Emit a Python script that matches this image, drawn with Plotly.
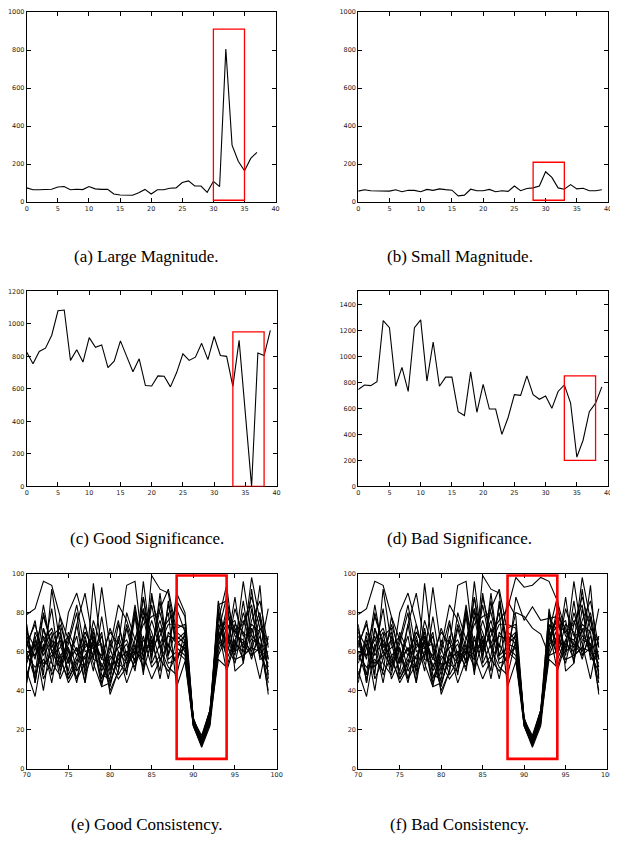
import plotly.graph_objects as go

# ---------------- data ----------------
# (a) Large Magnitude
a_x = list(range(38))
a_y = [75, 65, 65, 65, 68, 80, 82, 65, 68, 66, 82, 70, 67, 68, 43, 38, 38, 36, 50, 67,
       43, 65, 65, 73, 75, 103, 112, 85, 85, 52, 110, 82, 805, 300, 215, 165, 230, 262]
a_box = [30, 35, 10, 910]

# (b) Small Magnitude
b_x = list(range(40))
b_y = [58, 65, 60, 60, 58, 58, 65, 55, 63, 62, 55, 67, 62, 70, 66, 63, 33, 37, 68, 60,
       60, 67, 55, 60, 57, 85, 60, 72, 75, 85, 160, 130, 75, 68, 92, 70, 73, 60, 60, 65]
b_box = [28, 33, 10, 210]

# (c) Good Significance
c_x = list(range(40))
c_y = [825, 755, 830, 850, 930, 1080, 1085, 775, 840, 765, 915, 855, 870, 730, 770, 895,
       800, 705, 785, 620, 618, 680, 678, 612, 700, 815, 775, 795, 880, 780, 922, 805,
       800, 615, 898, 440, 0, 820, 805, 960]
c_box = [33, 38, 0, 950]

# (d) Bad Significance
d_x = list(range(40))
d_y = [745, 780, 775, 805, 1275, 1220, 770, 915, 730, 1220, 1280, 810, 1110, 770, 840,
       840, 575, 545, 880, 570, 785, 595, 595, 400, 530, 705, 700, 850, 705, 670, 695,
       600, 730, 780, 640, 225, 355, 575, 640, 765]
d_box = [33, 38, 200, 850]

# (e)/(f) Consistency: x = 70..99
cons_x = list(range(70, 100))
e01 = [79, 82, 96, 94, 78, 66, 58, 70, 62, 58, 70, 64, 94, 96, 60, 88, 70, 76, 82, 70, 24, 14, 26, 84, 86, 70, 74, 88, 72, 64]
e02 = [74, 44, 72, 60, 52, 80, 90, 74, 56, 93, 62, 84, 76, 62, 52, 99, 92, 90, 66, 60, 23, 12, 24, 76, 94, 60, 64, 98, 76, 56]
e03 = [62, 76, 48, 92, 64, 50, 74, 90, 64, 42, 44, 56, 60, 56, 78, 56, 90, 58, 90, 80, 25, 13, 28, 86, 62, 88, 58, 62, 94, 46]
e04 = [50, 37, 62, 70, 46, 56, 62, 44, 95, 60, 40, 50, 72, 54, 96, 62, 68, 80, 42, 55, 22, 11, 22, 60, 72, 76, 54, 92, 60, 82]
e05 = [68, 56, 84, 60, 52, 64, 80, 48, 60, 70, 38, 50, 80, 66, 82, 60, 82, 92, 70, 66, 24, 15, 30, 80, 56, 66, 76, 64, 46, 68]
e06 = [56, 64, 40, 68, 72, 48, 58, 62, 68, 56, 54, 46, 52, 78, 48, 90, 64, 74, 74, 72, 26, 14, 26, 70, 88, 50, 54, 82, 58, 50]
e07 = [72, 44, 72, 54, 48, 70, 60, 70, 62, 64, 44, 58, 64, 50, 80, 70, 56, 50, 58, 62, 23, 16, 30, 64, 66, 62, 96, 68, 64, 44]
e08 = [64, 74, 58, 66, 56, 46, 54, 74, 56, 54, 42, 60, 54, 62, 74, 78, 80, 62, 86, 78, 25, 15, 27, 82, 60, 82, 68, 70, 80, 56]
e09 = [46, 66, 52, 60, 66, 54, 62, 56, 70, 48, 46, 66, 48, 82, 56, 84, 62, 68, 66, 70, 23, 13, 25, 66, 78, 72, 62, 74, 70, 38]
e10 = [60, 58, 66, 72, 58, 62, 46, 64, 58, 68, 50, 74, 58, 60, 88, 64, 76, 58, 72, 74, 24, 14, 29, 72, 50, 64, 60, 76, 86, 62]
e11 = [70, 62, 54, 58, 62, 68, 50, 58, 66, 44, 56, 62, 66, 54, 68, 52, 58, 84, 62, 58, 22, 12, 23, 78, 70, 58, 86, 58, 68, 52]
e12 = [54, 68, 46, 56, 74, 60, 44, 66, 54, 42, 66, 54, 50, 66, 82, 58, 72, 54, 56, 64, 24, 16, 28, 62, 82, 68, 66, 60, 78, 48]
e13 = [66, 48, 80, 62, 70, 46, 56, 52, 76, 62, 48, 68, 56, 80, 50, 66, 50, 86, 64, 68, 26, 15, 26, 74, 64, 54, 74, 84, 56, 58]
e14 = [48, 62, 78, 64, 54, 66, 84, 60, 62, 46, 58, 52, 74, 58, 88, 54, 64, 46, 68, 64, 23, 13, 24, 68, 76, 60, 80, 66, 64, 40]
e15 = [58, 52, 56, 50, 78, 56, 68, 44, 68, 52, 62, 48, 56, 84, 58, 46, 56, 64, 54, 70, 25, 17, 30, 70, 58, 74, 70, 56, 72, 66]
e16 = [64, 58, 68, 48, 58, 44, 52, 68, 50, 78, 52, 56, 60, 52, 66, 60, 86, 56, 60, 56, 24, 14, 27, 58, 68, 56, 58, 62, 60, 54]
e17 = [44, 70, 60, 82, 50, 62, 46, 54, 72, 50, 60, 76, 52, 60, 56, 68, 46, 70, 64, 62, 22, 12, 25, 56, 52, 66, 56, 72, 58, 60]
e18 = [60, 46, 64, 44, 68, 54, 74, 50, 66, 56, 72, 60, 44, 56, 60, 76, 62, 52, 48, 66, 25, 14, 28, 66, 74, 70, 64, 58, 62, 64]
e_box = [88, 94, 5, 99]

# (f) inconsistent series: values at x = 88..94 replace the dip
f01_dip = [82, 98, 93, 94, 98, 96, 86]
f02_dip = [54, 88, 76, 83, 76, 77, 78]
f03_dip = [62, 80, 78, 72, 69, 58, 60]
f_box = [88, 94, 5, 99]

captions = ["(a) Large Magnitude.", "(b) Small Magnitude.",
            "(c) Good Significance.", "(d) Bad Significance.",
            "(e) Good Consistency.", "(f) Bad Consistency."]

# ---------------- figure ----------------
# The page body has an 8px margin, so the figure starts at (8, 8) in the window.
OFF = 8
W, H = 618 - OFF, 842 - OFF
fig = go.Figure()

def px_x(p):
    return (p - OFF) / W

def px_y(p):
    return 1 - (p - OFF) / H

panels = [
    # name, xdomain px, ydomain px (top, bottom), xrange, dtick x, yrange, dtick y
    ("a", (23, 276), (4, 200), [0, 40], 5, [0, 1000], 200),
    ("b", (360, 614), (4, 200), [0, 40], 5, [0, 1000], 200),
    ("c", (23, 277), (290, 487), [0, 40], 5, [0, 1200], 200),
    ("d", (360, 614), (290, 487), [0, 40], 5, [0, 1500], 200),
    ("e", (23, 277), (575, 772), [70, 100], 5, [0, 100], 20),
    ("f", (360, 613), (575, 772), [70, 100], 5, [0, 100], 20),
]

line_style = dict(color="black", width=1.1)

e_all = [e01, e02, e03, e04, e05, e06, e07, e08, e09, e10, e11, e12, e13, e14, e15, e16, e17, e18]
f_all = [list(s) for s in e_all]
for s, dip in zip(f_all[:3], [f01_dip, f02_dip, f03_dip]):
    s[18:25] = dip

traces = {
    "a": [(a_x, a_y)],
    "b": [(b_x, b_y)],
    "c": [(c_x, c_y)],
    "d": [(d_x, d_y)],
    "e": [(cons_x, s) for s in e_all],
    "f": [(cons_x, s) for s in f_all],
}
boxes = {"a": (a_box, 1.3), "b": (b_box, 1.3), "c": (c_box, 1.3), "d": (d_box, 1.3),
         "e": (e_box, 2.6), "f": (f_box, 2.6)}

tickfont = dict(family="DejaVu Sans", size=6.5, color="#222")
layout_axes = {}
for i, (name, xd, yd, xr, dx, yr, dy) in enumerate(panels):
    n = i + 1
    xa = "xaxis" if n == 1 else f"xaxis{n}"
    ya = "yaxis" if n == 1 else f"yaxis{n}"
    xref = "x" if n == 1 else f"x{n}"
    yref = "y" if n == 1 else f"y{n}"
    layout_axes[xa] = dict(domain=[px_x(xd[0]), min(1, px_x(xd[1]))], range=xr, dtick=dx, tick0=0,
                           anchor=yref, showgrid=False, zeroline=False, showline=True,
                           linecolor="black", linewidth=1, mirror="ticks", ticks="inside",
                           ticklen=4, tickcolor="black", tickfont=tickfont, fixedrange=True)
    layout_axes[ya] = dict(domain=[px_y(yd[1]), min(1, px_y(yd[0]))], range=yr, dtick=dy, tick0=0,
                           anchor=xref, showgrid=False, zeroline=False, showline=True,
                           linecolor="black", linewidth=1, mirror="ticks", ticks="inside",
                           ticklen=4, tickcolor="black", tickfont=tickfont, fixedrange=True)
    for (xs, ys) in traces[name]:
        fig.add_trace(go.Scatter(x=xs, y=ys, mode="lines", line=line_style,
                                 xaxis=xref, yaxis=yref, showlegend=False, hoverinfo="skip"))
    (bx0, bx1, by0, by1), bw = boxes[name]
    fig.add_shape(type="rect", x0=bx0, x1=bx1, y0=by0, y1=by1, xref=xref, yref=yref,
                  line=dict(color="red", width=bw), fillcolor="rgba(0,0,0,0)")

cap_pos = [(145, 255), (463, 255), (145, 540), (463, 540), (145, 828), (463, 828)]
for text, (cx, cy) in zip(captions, cap_pos):
    fig.add_annotation(text=text, x=px_x(cx), y=px_y(cy), xref="paper", yref="paper",
                       showarrow=False, xanchor="center", yanchor="middle",
                       font=dict(family="Liberation Serif", size=17, color="black"))

fig.update_layout(width=W, height=H, margin=dict(l=0, r=0, t=0, b=0),
                  paper_bgcolor="white", plot_bgcolor="white", showlegend=False,
                  **layout_axes)

fig.write_html("out.html", config={"displayModeBar": False})
